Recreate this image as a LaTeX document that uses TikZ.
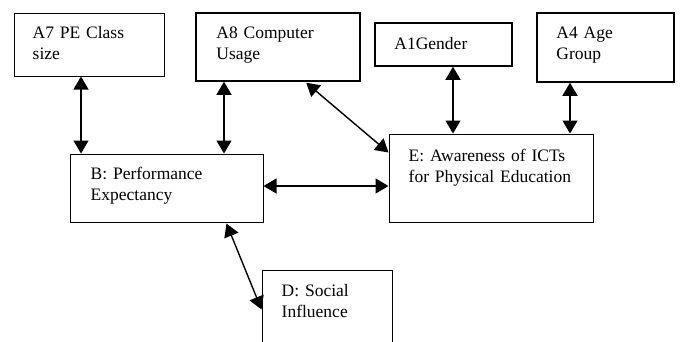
\documentclass[tikz,border=0pt]{standalone}
\usepackage{fontspec}
\setmainfont{Liberation Serif}
\usetikzlibrary{arrows.meta,calc}
\tikzset{
  box/.style={draw=black, line width=1pt, inner sep=0pt, rectangle},
  boxb/.style={box, line width=1.5pt},
  lbl/.style={anchor=base west, inner sep=0pt, align=left, text width=200pt,
    font=\fontsize{17.5}{21}\selectfont},
  dbl/.style={line width=1.4pt, {Triangle[length=13pt,width=15pt]}-{Triangle[length=13pt,width=15pt]}}
}
\begin{document}
\begin{tikzpicture}[x=1pt,y=-1pt]
\useasboundingbox (0,0) rectangle (680,341);
\node[box, minimum width=150pt, minimum height=63pt] (a7) at (89,44.5) {};
\node[boxb, minimum width=164pt, minimum height=68pt] (a8) at (278,47) {};
\node[boxb, minimum width=137pt, minimum height=43pt] (a1) at (443.5,44.5) {};
\node[boxb, minimum width=137pt, minimum height=69pt] (a4) at (605.5,47.5) {};
\node[box, minimum width=193pt, minimum height=68pt] (b) at (166.5,188) {};
\node[box, minimum width=204pt, minimum height=88pt] (e) at (491,178) {};
\node[box, minimum width=130pt, minimum height=80pt] (d) at (327,310) {};

\node[lbl] (a7t) at ($(a7.north west)+(19,26)$) {A7 PE Class\\size};
\node[lbl] (a8t) at ($(a8.north west)+(21,26)$) {A8 Computer\\Usage};
\node[lbl] (a1t) at ($(a1.north west)+(20,27)$) {A1Gender};
\node[lbl] (a4t) at ($(a4.north west)+(20,26)$) {A4 Age\\Group};
\node[lbl] (bt) at ($(b.north west)+(21,26)$) {B: Performance\\Expectancy};
\node[lbl] (et) at ($(e.north west)+(20,28)$) {E: Awareness of ICTs\\for Physical Education};
\node[lbl] (dt) at ($(d.north west)+(20,27)$) {D: Social\\Influence};

\coordinate (x81) at (81,0);
\coordinate (x224) at (224,0);
\coordinate (x453) at (453,0);
\coordinate (x570) at (570,0);
\coordinate (y186) at (0,186);

\draw[dbl] (a7.south -| x81) -- (b.north -| x81);
\draw[dbl] (a8.south -| x224) -- (b.north -| x224);
\draw[dbl] (a1.south -| x453) -- (e.north -| x453);
\draw[dbl] (a4.south -| x570) -- (e.north -| x570);
\draw[dbl] (b.east |- y186) -- (e.west |- y186);
\draw[dbl] ($(a8.south west)+(111,1)$) -- ($(e.north west)+(0,19)$);
\draw[dbl] ($(b.south west)+(157,1)$) -- ($(d.north west)+(0,40)$);
\end{tikzpicture}
\end{document}
